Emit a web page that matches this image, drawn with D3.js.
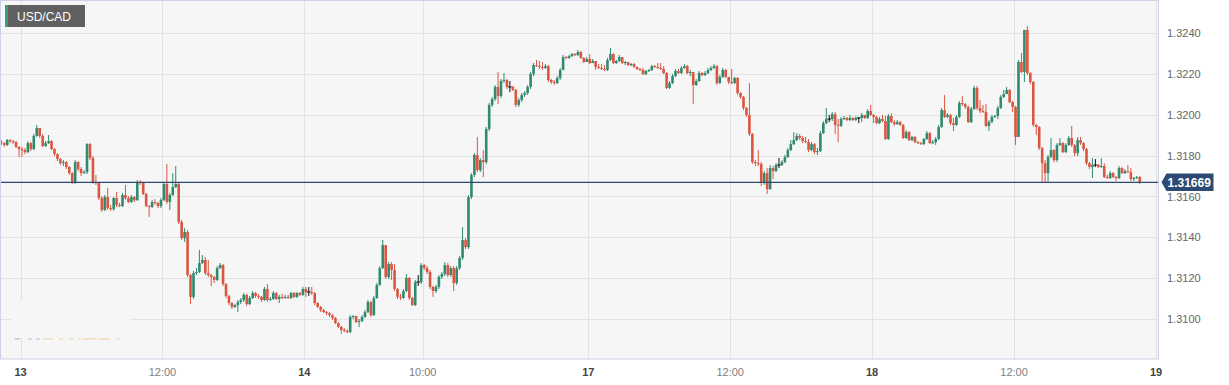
<!DOCTYPE html>
<html><head><meta charset="utf-8">
<script src="https://cdn.jsdelivr.net/npm/d3@7"></script>
<style>html,body{margin:0;padding:0;background:#fff;}svg{display:block;font-family:"Liberation Sans",Arial,sans-serif;}</style>
</head><body><svg id="chart" width="1229" height="385"></svg>
<script>
const title = "USD/CAD";
const firstOpen = 1.31866;
const closes = [
1.31861,1.31852,1.31876,1.31871,1.31866,1.31842,1.31832,1.31827,1.31817,1.31861,
1.31832,1.31896,1.31935,1.31896,1.31847,1.31861,1.31871,1.31832,1.31807,1.31783,
1.31763,1.31768,1.31744,1.31714,1.31670,1.31768,1.31734,1.31714,1.31719,1.31856,
1.31788,1.31670,1.31666,1.31592,1.31534,1.31597,1.31543,1.31538,1.31592,1.31558,
1.31553,1.31607,1.31592,1.31573,1.31597,1.31582,1.31670,1.31666,1.31612,1.31553,
1.31548,1.31573,1.31568,1.31553,1.31582,1.31661,1.31573,1.31607,1.31646,1.31661,
1.31475,1.31396,1.31426,1.31215,1.31108,1.31225,1.31230,1.31274,1.31289,1.31225,
1.31215,1.31206,1.31191,1.31249,1.31264,1.31171,1.31113,1.31078,1.31059,1.31068,
1.31083,1.31093,1.31118,1.31073,1.31103,1.31127,1.31113,1.31108,1.31093,1.31147,
1.31093,1.31098,1.31127,1.31098,1.31108,1.31103,1.31108,1.31103,1.31127,1.31108,
1.31127,1.31118,1.31147,1.31132,1.31132,1.31127,1.31078,1.31059,1.31044,1.31034,
1.31029,1.31019,1.31005,1.30980,1.30961,1.30946,1.30941,1.30936,1.31010,1.31015,
1.30985,1.30990,1.31010,1.31034,1.31083,1.31019,1.31103,1.31167,1.31249,1.31362,
1.31206,1.31269,1.31240,1.31147,1.31108,1.31103,1.31137,1.31201,1.31103,1.31068,
1.31181,1.31181,1.31264,1.31249,1.31230,1.31157,1.31137,1.31157,1.31206,1.31220,
1.31264,1.31215,1.31249,1.31176,1.31249,1.31299,1.31387,1.31352,1.31597,1.31705,
1.31803,1.31729,1.31778,1.31768,1.31930,1.32048,1.32077,1.32136,1.32092,1.32165,
1.32170,1.32136,1.32136,1.32121,1.32048,1.32072,1.32096,1.32106,1.32136,1.32199,
1.32243,1.32238,1.32234,1.32229,1.32238,1.32170,1.32160,1.32155,1.32180,1.32219,
1.32282,1.32278,1.32287,1.32297,1.32292,1.32307,1.32278,1.32258,1.32273,1.32253,
1.32263,1.32234,1.32229,1.32224,1.32219,1.32268,1.32297,1.32253,1.32263,1.32282,
1.32253,1.32258,1.32243,1.32248,1.32234,1.32224,1.32219,1.32199,1.32214,1.32219,
1.32238,1.32234,1.32229,1.32224,1.32204,1.32131,1.32155,1.32189,1.32214,1.32204,
1.32229,1.32238,1.32204,1.32209,1.32145,1.32165,1.32204,1.32194,1.32204,1.32219,
1.32229,1.32238,1.32155,1.32185,1.32219,1.32185,1.32160,1.32155,1.32180,1.32106,
1.32087,1.32033,1.31999,1.31906,1.31768,1.31763,1.31759,1.31670,1.31714,1.31636,
1.31739,1.31724,1.31754,1.31754,1.31768,1.31793,1.31827,1.31856,1.31876,1.31896,
1.31886,1.31871,1.31866,1.31827,1.31856,1.31817,1.31822,1.31910,1.31959,1.31979,
1.31979,1.32003,1.31950,1.31945,1.31979,1.31984,1.31974,1.31984,1.31974,1.31984,
1.31984,1.31999,1.31984,1.32018,1.31999,1.31989,1.31959,1.31979,1.31969,1.31881,
1.31994,1.31964,1.31954,1.31964,1.31950,1.31886,1.31915,1.31876,1.31891,1.31866,
1.31861,1.31856,1.31881,1.31910,1.31861,1.31866,1.31881,1.31940,1.32023,1.31989,
1.31999,1.31959,1.31950,1.31989,1.32057,1.32052,1.32038,1.31964,1.32028,1.32131,
1.32033,1.32018,1.32013,1.31945,1.31964,1.31989,1.31994,1.32033,1.32087,1.32101,
1.32121,1.32062,1.32038,1.31891,1.32258,1.32209,1.32415,1.32204,1.32160,1.31950,
1.31940,1.31837,1.31763,1.31714,1.31793,1.31827,1.31778,1.31852,1.31861,1.31817,
1.31852,1.31886,1.31852,1.31812,1.31876,1.31861,1.31832,1.31763,1.31744,1.31754,
1.31754,1.31744,1.31749,1.31695,1.31690,1.31714,1.31695,1.31690,1.31739,1.31714,
1.31724,1.31719,1.31685,1.31690,1.31695,1.31669
];
const highs = [
1.31876,1.31866,1.31881,1.31881,1.31876,1.31871,1.31847,1.31842,1.31837,1.31871,
1.31866,1.31906,1.31950,1.31920,1.31906,1.31871,1.31901,1.31876,1.31837,1.31812,
1.31788,1.31778,1.31773,1.31749,1.31719,1.31778,1.31773,1.31744,1.31729,1.31861,
1.31861,1.31798,1.31705,1.31670,1.31602,1.31607,1.31641,1.31558,1.31597,1.31622,
1.31568,1.31617,1.31656,1.31602,1.31607,1.31602,1.31680,1.31680,1.31670,1.31617,
1.31558,1.31582,1.31587,1.31573,1.31592,1.31670,1.31759,1.31617,1.31714,1.31749,
1.31666,1.31485,1.31445,1.31436,1.31220,1.31235,1.31249,1.31338,1.31313,1.31304,
1.31289,1.31220,1.31210,1.31259,1.31274,1.31269,1.31176,1.31118,1.31083,1.31073,
1.31093,1.31103,1.31127,1.31123,1.31113,1.31137,1.31132,1.31123,1.31113,1.31157,
1.31171,1.31108,1.31137,1.31132,1.31118,1.31123,1.31118,1.31118,1.31132,1.31132,
1.31132,1.31132,1.31157,1.31157,1.31157,1.31157,1.31132,1.31083,1.31064,1.31049,
1.31039,1.31034,1.31024,1.31010,1.30985,1.30966,1.30956,1.30951,1.31019,1.31019,
1.31015,1.31000,1.31019,1.31044,1.31093,1.31088,1.31113,1.31176,1.31259,1.31387,
1.31357,1.31279,1.31279,1.31269,1.31152,1.31123,1.31147,1.31220,1.31206,1.31108,
1.31191,1.31215,1.31274,1.31269,1.31259,1.31240,1.31162,1.31167,1.31215,1.31230,
1.31279,1.31274,1.31259,1.31259,1.31259,1.31308,1.31450,1.31396,1.31607,1.31714,
1.31812,1.31891,1.31788,1.31827,1.31940,1.32057,1.32087,1.32145,1.32209,1.32175,
1.32204,1.32175,1.32165,1.32141,1.32126,1.32082,1.32106,1.32116,1.32145,1.32209,
1.32253,1.32268,1.32263,1.32258,1.32248,1.32243,1.32175,1.32170,1.32189,1.32229,
1.32292,1.32287,1.32292,1.32302,1.32302,1.32317,1.32312,1.32282,1.32282,1.32297,
1.32273,1.32263,1.32248,1.32248,1.32243,1.32278,1.32327,1.32302,1.32268,1.32292,
1.32282,1.32263,1.32258,1.32253,1.32253,1.32234,1.32229,1.32229,1.32219,1.32224,
1.32243,1.32243,1.32253,1.32253,1.32238,1.32209,1.32165,1.32199,1.32224,1.32224,
1.32238,1.32248,1.32243,1.32219,1.32209,1.32175,1.32214,1.32209,1.32214,1.32229,
1.32238,1.32248,1.32243,1.32194,1.32229,1.32224,1.32185,1.32224,1.32185,1.32185,
1.32111,1.32092,1.32038,1.32155,1.31910,1.31778,1.31827,1.31768,1.31724,1.31739,
1.31754,1.31749,1.31763,1.31788,1.31778,1.31803,1.31837,1.31876,1.31915,1.31910,
1.31906,1.31896,1.31891,1.31881,1.31866,1.31861,1.31837,1.31920,1.31969,1.32033,
1.31999,1.32013,1.32013,1.31979,1.31989,1.31994,1.31989,1.31999,1.31989,1.31994,
1.31989,1.32008,1.31999,1.32028,1.32048,1.32003,1.31994,1.31989,1.31999,1.31994,
1.32003,1.32008,1.31974,1.31974,1.31969,1.31954,1.31925,1.31920,1.31896,1.31896,
1.31871,1.31866,1.31886,1.31920,1.31915,1.31876,1.31891,1.31950,1.32033,1.32096,
1.32008,1.32003,1.31984,1.31999,1.32067,1.32092,1.32057,1.32043,1.32038,1.32141,
1.32141,1.32072,1.32048,1.32052,1.31974,1.31999,1.31999,1.32043,1.32096,1.32121,
1.32136,1.32126,1.32067,1.32043,1.32268,1.32302,1.32415,1.32434,1.32209,1.32165,
1.31954,1.31945,1.31842,1.31778,1.31803,1.31886,1.31832,1.31861,1.31886,1.31866,
1.31861,1.31896,1.31945,1.31856,1.31891,1.31891,1.31866,1.31837,1.31768,1.31788,
1.31783,1.31759,1.31788,1.31763,1.31705,1.31724,1.31719,1.31700,1.31749,1.31744,
1.31734,1.31754,1.31739,1.31695,1.31700,1.31700
];
const lows = [
1.31852,1.31842,1.31847,1.31861,1.31856,1.31837,1.31793,1.31793,1.31807,1.31812,
1.31822,1.31827,1.31891,1.31886,1.31842,1.31842,1.31856,1.31827,1.31798,1.31773,
1.31754,1.31749,1.31734,1.31705,1.31661,1.31661,1.31724,1.31700,1.31710,1.31710,
1.31778,1.31661,1.31656,1.31582,1.31524,1.31529,1.31534,1.31529,1.31529,1.31548,
1.31548,1.31548,1.31582,1.31568,1.31568,1.31573,1.31578,1.31656,1.31607,1.31548,
1.31499,1.31543,1.31558,1.31543,1.31543,1.31578,1.31563,1.31534,1.31602,1.31641,
1.31465,1.31387,1.31377,1.31206,1.31073,1.31098,1.31215,1.31225,1.31269,1.31215,
1.31206,1.31162,1.31176,1.31186,1.31245,1.31162,1.31103,1.31068,1.31049,1.31054,
1.31034,1.31073,1.31083,1.31064,1.31068,1.31098,1.31103,1.31098,1.31083,1.31088,
1.31083,1.31088,1.31093,1.31093,1.31078,1.31098,1.31098,1.31098,1.31098,1.31103,
1.31103,1.31113,1.31113,1.31108,1.31113,1.31118,1.31068,1.31054,1.31034,1.31029,
1.31019,1.31010,1.30995,1.30975,1.30956,1.30927,1.30936,1.30931,1.30931,1.31000,
1.30980,1.30961,1.30985,1.31005,1.31029,1.31010,1.31015,1.31098,1.31162,1.31245,
1.31196,1.31196,1.31191,1.31137,1.31098,1.31093,1.31098,1.31132,1.31093,1.31064,
1.31064,1.31162,1.31171,1.31240,1.31220,1.31147,1.31108,1.31127,1.31147,1.31196,
1.31210,1.31206,1.31206,1.31137,1.31167,1.31240,1.31289,1.31343,1.31343,1.31587,
1.31695,1.31719,1.31719,1.31695,1.31759,1.31920,1.32038,1.32067,1.32052,1.32082,
1.32155,1.32126,1.32111,1.32116,1.32038,1.32038,1.32062,1.32087,1.32096,1.32126,
1.32189,1.32234,1.32224,1.32219,1.32224,1.32160,1.32150,1.32145,1.32150,1.32170,
1.32219,1.32273,1.32273,1.32282,1.32287,1.32287,1.32273,1.32253,1.32258,1.32248,
1.32253,1.32219,1.32224,1.32219,1.32214,1.32214,1.32263,1.32248,1.32248,1.32258,
1.32248,1.32243,1.32238,1.32238,1.32229,1.32219,1.32214,1.32194,1.32194,1.32209,
1.32214,1.32229,1.32224,1.32219,1.32199,1.32126,1.32126,1.32150,1.32185,1.32199,
1.32199,1.32224,1.32199,1.32189,1.32052,1.32141,1.32160,1.32189,1.32189,1.32199,
1.32214,1.32224,1.32145,1.32150,1.32180,1.32180,1.32150,1.32150,1.32150,1.32096,
1.32077,1.32023,1.31989,1.31896,1.31759,1.31749,1.31749,1.31651,1.31656,1.31612,
1.31632,1.31685,1.31719,1.31739,1.31749,1.31763,1.31788,1.31822,1.31852,1.31871,
1.31876,1.31861,1.31861,1.31817,1.31822,1.31807,1.31803,1.31817,1.31906,1.31954,
1.31964,1.31969,1.31906,1.31866,1.31940,1.31974,1.31969,1.31969,1.31969,1.31969,
1.31959,1.31964,1.31979,1.31979,1.31994,1.31959,1.31954,1.31954,1.31964,1.31876,
1.31876,1.31959,1.31945,1.31950,1.31945,1.31881,1.31881,1.31871,1.31871,1.31861,
1.31856,1.31852,1.31852,1.31876,1.31856,1.31856,1.31852,1.31876,1.31935,1.31984,
1.31984,1.31950,1.31920,1.31945,1.31984,1.32043,1.32028,1.31959,1.31959,1.32023,
1.32023,1.32008,1.32008,1.31940,1.31920,1.31959,1.31984,1.31979,1.32028,1.32082,
1.32106,1.32057,1.32013,1.31852,1.31891,1.32204,1.32160,1.32194,1.32150,1.31940,
1.31901,1.31827,1.31670,1.31670,1.31670,1.31788,1.31768,1.31768,1.31847,1.31812,
1.31812,1.31847,1.31842,1.31798,1.31798,1.31852,1.31822,1.31754,1.31734,1.31690,
1.31744,1.31739,1.31739,1.31690,1.31685,1.31685,1.31690,1.31675,1.31685,1.31710,
1.31710,1.31714,1.31675,1.31675,1.31685,1.31661
];
// first candle sits 7 fifteen-minute slots before 13 00:00
const firstSlot = -7;
const xTickLabels = ["13","12:00","14","10:00","17","12:00","18","12:00","19"];
const xTickSlots  = [0,48,96,136,192,240,288,336,384];
const xTickIsDate = [true,false,true,false,true,false,true,false,true];
const yTicks = [1.3100,1.3120,1.3140,1.3160,1.3180,1.3200,1.3220,1.3240];
const lastPrice = 1.31669;

const UP = "#2f8a70", DOWN = "#db5640", DOJI = "#111";
const plot = {left:0, top:0, right:1158, bottom:359};

const svg = d3.select("#chart");
const x = d3.scaleLinear().domain([0,384]).range([20.5,1156]);
const y = d3.scaleLinear().domain([1.3100,1.3240]).range([319,33]);

const candles = closes.map((c,i)=>{
  const o = i===0 ? firstOpen : closes[i-1];
  return {slot:firstSlot+i, o, c, h:Math.max(highs[i],o,c), l:Math.min(lows[i],o,c)};
});

// plot background
svg.append("rect").attr("x",plot.left).attr("y",plot.top)
  .attr("width",plot.right-plot.left).attr("height",plot.bottom-plot.top).attr("fill","#f6f6f6");

// grid
const grid = svg.append("g").attr("stroke","#e2e2e2").attr("stroke-width",1);
grid.selectAll("line.h").data(yTicks).join("line").attr("class","h")
  .attr("x1",plot.left).attr("x2",plot.right)
  .attr("y1",d=>Math.round(y(d))+0.5).attr("y2",d=>Math.round(y(d))+0.5);
grid.selectAll("line.v").data(xTickSlots).join("line").attr("class","v")
  .attr("y1",plot.top).attr("y2",plot.bottom)
  .attr("x1",d=>Math.round(x(d))+0.5).attr("x2",d=>Math.round(x(d))+0.5);

// faint legend placeholder (bottom-left)
const leg = svg.append("g");
leg.append("rect").attr("x",11).attr("y",300).attr("width",119).attr("height",38).attr("fill","#f6f6f6");
const legendDashes = [[15,20,"#c4c4c4"],[28,32,"#cfd2dc"],[36,40,"#cfd2dc"],[43,53,"#f4dcc0"],[59,63,"#f4dcc0"],[69,73,"#f4dcc0"],[78,81,"#f4dcc0"],[83,97,"#f4dcc0"],[99,110,"#f4dcc0"],[116,120,"#f4dcc0"]];
leg.selectAll("rect.d").data(legendDashes).join("rect").attr("class","d")
  .attr("x",d=>d[0]).attr("width",d=>d[1]-d[0]).attr("y",338).attr("height",1.6).attr("fill",d=>d[2]);

// candles
svg.append("clipPath").attr("id","clip").append("rect")
  .attr("x",plot.left).attr("y",plot.top).attr("width",plot.right-plot.left).attr("height",plot.bottom-plot.top);
const cg = svg.append("g").attr("clip-path","url(#clip)");
const bw = 2.6;
const col = d => d.c===d.o ? DOJI : (d.c>d.o ? UP : DOWN);
cg.selectAll("line.w").data(candles).join("line").attr("class","w")
  .attr("x1",d=>x(d.slot+0.5)).attr("x2",d=>x(d.slot+0.5))
  .attr("y1",d=>y(d.h)).attr("y2",d=>y(d.l))
  .attr("stroke",col).attr("stroke-width",1);
cg.selectAll("rect.b").data(candles).join("rect").attr("class","b")
  .attr("x",d=>x(d.slot+0.5)-(d.c===d.o?1.8:bw/2))
  .attr("width",d=>d.c===d.o?3.6:bw)
  .attr("y",d=>d.c===d.o ? y(d.c)-0.5 : Math.min(y(d.o),y(d.c)))
  .attr("height",d=>d.c===d.o ? 1 : Math.max(1,Math.abs(y(d.o)-y(d.c))))
  .attr("fill",col);

// last price line
svg.append("line").attr("x1",plot.left).attr("x2",plot.right)
  .attr("y1",y(lastPrice)).attr("y2",y(lastPrice))
  .attr("stroke","#2b4a78").attr("stroke-width",1.2);

// border
svg.append("rect").attr("x",plot.left+0.5).attr("y",plot.top+0.5)
  .attr("width",plot.right-plot.left).attr("height",plot.bottom-plot.top-0.5)
  .attr("fill","none").attr("stroke","#cdd2e8").attr("stroke-width",1);

// y labels
svg.append("g").selectAll("text").data(yTicks).join("text")
  .attr("x",1167).attr("y",d=>y(d)+4.2)
  .attr("font-size",11).attr("fill","#666")
  .text(d=>d.toFixed(4));

// x labels
svg.append("g").selectAll("text").data(xTickSlots).join("text")
  .attr("x",d=>x(d)).attr("y",376).attr("text-anchor","middle")
  .attr("font-size",11)
  .attr("font-weight",(d,i)=>xTickIsDate[i]?"bold":"normal")
  .attr("fill",(d,i)=>xTickIsDate[i]?"#444":"#808080")
  .text((d,i)=>xTickLabels[i]);

// price tag
const py = y(lastPrice);
svg.append("path")
  .attr("d",`M1161.5,${py} L1166.5,${py-8.8} H1213.5 V${py+8.6} H1166.5 Z`)
  .attr("fill","#2c4a74");
svg.append("text").attr("x",1167.5).attr("y",py+4.3)
  .attr("font-size",12).attr("font-weight","bold").attr("fill","#fff").text(lastPrice.toFixed(5));

// title badge
const tb = svg.append("g");
tb.append("rect").attr("x",5).attr("y",5).attr("width",80).attr("height",22).attr("fill","#606060");
tb.append("rect").attr("x",5).attr("y",5).attr("width",3).attr("height",22).attr("fill","#3a9a7b");
tb.append("text").attr("x",17).attr("y",20.6).attr("font-size",12).attr("fill","#fff").text(title);
</script></body></html>
